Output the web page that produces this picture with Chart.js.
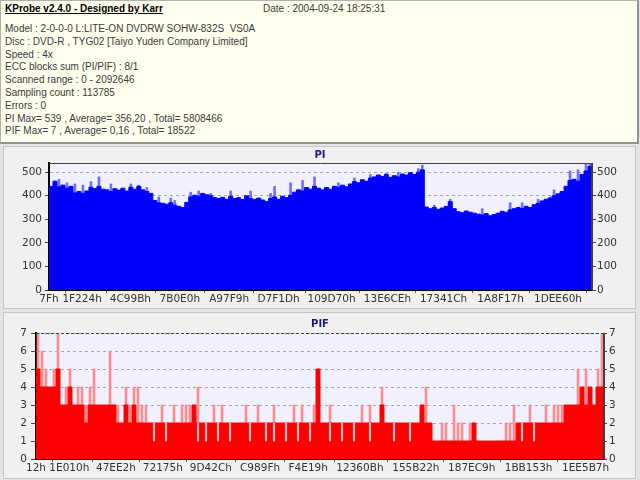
<!DOCTYPE html>
<html><head><meta charset="utf-8">
<script src="https://cdn.jsdelivr.net/npm/chart.js@4.4.1/dist/chart.umd.min.js"></script>
<style>
html,body{margin:0;padding:0;width:640px;height:480px;overflow:hidden;background:#e4e4e4;}
#hdr{position:absolute;left:0;top:0;width:636px;height:141px;background:#ffffee;border:1px solid #b0b0b0;border-right:2px solid #909090;border-bottom:2px solid #909090;font-family:"Liberation Sans",Arial,sans-serif;font-size:10px;color:#3a3a3a;}
#hdr div{position:absolute;line-height:12px;white-space:pre;}
.panel{position:absolute;left:3px;width:631px;background:#f0f0f0;border:1px solid #c4c4c4;}
canvas{position:absolute;left:0;}
</style></head>
<body>
<div id="hdr"></div>
<div class="panel" style="top:146px;height:161px;"></div>
<div class="panel" style="top:312px;height:165px;"></div>
<canvas id="pi" width="640" height="164" style="top:146px"></canvas>
<canvas id="pif" width="640" height="168" style="top:312px"></canvas>
<script>
// ---------- header text ----------
const headerTitle = "KProbe v2.4.0 - Designed by Karr";
const headerDate = "Date : 2004-09-24 18:25:31";
const infoLines = [
  "Model : 2-0-0-0 L:LITE-ON DVDRW SOHW-832S  VS0A",
  "Disc : DVD-R , TYG02 [Taiyo Yuden Company Limited]",
  "Speed : 4x",
  "ECC blocks sum (PI/PIF) : 8/1",
  "Scanned range : 0 - 2092646",
  "Sampling count : 113785",
  "Errors : 0",
  "PI Max= 539 , Average= 356,20 , Total= 5808466",
  "PIF Max= 7 , Average= 0,16 , Total= 18522"
];

// ---------- chart data ----------
const RANGE_MAX = 2092646;
const _ = null;

const piTickLabels = ["7Fh","1F224h","4C99Bh","7B0E0h","A97F9h","D7F1Dh","109D70h","13E6CEh","17341Ch","1A8F17h","1DEE60h"];
const pifTickLabels = ["12h","1E010h","47EE2h","72175h","9D42Ch","C989Fh","F4E19h","12360Bh","155B22h","187EC9h","1BB153h","1EE5B7h"];
const piYTicks = [0,50,100,150,200,250,300,350,400,450,500];
const pifYTicks = [0,1,2,3,4,5,6,7];

// typical PI level per bin
const piValues = [
  440,462,438,445,432,440,412,418,410,420,
  436,430,440,428,425,418,430,424,432,420,
  436,428,440,425,418,410,380,370,368,364,
  370,360,355,350,372,395,402,398,410,404,
  400,392,388,393,385,398,388,392,384,400,
  388,385,390,382,376,388,395,385,398,392,
  402,415,425,420,435,428,440,432,425,435,
  428,440,436,445,438,450,460,455,468,462,
  475,480,488,482,490,478,485,480,492,488,
  498,490,500,510,352,345,350,342,348,355,
  375,345,332,328,335,330,326,322,318,324,
  315,320,326,334,330,340,345,350,346,355,
  350,362,368,378,385,390,400,408,418,440,
  465,470,462,490,505,525
];
// short PI spikes per bin
const piPeaks = [
  _,_,470,_,455,_,450,_,445,_,
  460,_,480,_,_,450,_,_,_,_,
  450,_,445,_,435,_,_,395,_,_,
  390,380,_,_,_,415,_,420,_,_,
  410,_,_,_,_,420,_,_,_,_,
  420,_,_,_,_,410,440,_,_,_,
  455,_,_,465,_,_,480,_,_,_,
  _,_,455,_,_,_,475,_,_,_,
  490,_,_,_,495,_,_,500,_,_,
  _,_,515,530,_,_,360,_,_,_,
  385,_,_,_,_,_,_,_,345,_,
  _,_,_,_,_,370,_,_,370,_,
  _,_,385,_,_,395,425,_,_,_,
  505,_,510,_,539,535
];

// typical PIF level per bin
const pifValues = [
  5,4,4,4,4,5,3,3,4,3,
  3,3,2,3,3,3,3,3,3,3,
  2,2,3,2,3,2,2,2,2,2,
  2,2,2,2,2,2,2,2,2,3,
  2,2,2,2,2,2,2,2,2,2,
  2,2,2,2,2,2,2,2,2,2,
  2,2,2,2,2,2,2,2,2,2,
  5,2,2,2,2,2,2,2,2,2,
  2,2,2,2,2,2,3,2,2,2,
  2,2,2,2,2,2,3,2,2,1,
  1,1,1,1,1,1,1,1,1,2,
  1,1,1,1,1,1,1,1,1,1,
  2,2,2,2,2,2,2,2,2,2,
  2,2,3,3,3,3,4,3,4,3,
  4,4
];
// short PIF spikes per bin
const pifPeaks = [
  7,6,5,_,5,7,_,4,5,_,
  4,4,3,4,5,_,_,_,6,_,
  3,_,4,3,4,4,3,3,_,_,
  _,3,_,_,3,_,3,3,3,_,
  4,_,_,_,3,_,3,_,_,_,
  _,_,3,_,_,3,_,_,_,3,
  _,_,_,_,3,_,3,_,_,3,
  _,_,_,3,_,_,_,_,_,_,
  _,3,_,3,_,_,4,_,_,_,
  _,_,_,_,_,_,_,4,_,_,
  _,2,2,_,3,2,2,_,2,_,
  _,_,_,_,_,_,_,2,2,3,
  _,_,_,3,_,_,_,3,_,3,
  3,3,_,_,_,5,_,5,_,_,
  5,7
];
// short PIF dips per bin
const pifLows = [
  _,_,_,_,_,_,_,_,_,_,
  _,_,_,_,_,_,_,_,_,_,
  _,_,_,_,_,_,_,_,_,1,
  _,_,1,_,_,_,_,_,_,_,
  1,_,1,_,_,1,_,_,1,_,
  _,_,_,1,_,_,_,1,_,1,
  _,_,1,_,_,1,_,_,1,_,
  _,_,_,1,_,_,1,_,_,1,
  _,_,_,1,_,_,_,_,_,1,
  _,_,_,1,_,_,_,_,_,_,
  _,_,_,_,_,_,_,_,_,_,
  _,_,_,_,_,_,_,_,_,_,
  _,1,_,_,1,_,_,_,_,_,
  _,_,_,_,_,_,_,_,_,_,
  _,_
];

// ---------- header build ----------
const hdr = document.getElementById('hdr');
function addLine(text, left, top, style) {
  const d = document.createElement('div');
  d.textContent = text; d.style.left = left + 'px'; d.style.top = top + 'px';
  if (style) Object.assign(d.style, style);
  hdr.appendChild(d);
}
addLine(headerTitle, 4, 2, {fontWeight:'bold', textDecoration:'underline', color:'#000'});
addLine(headerDate, 262, 2, {});
infoLines.forEach((t, i) => addLine(t, 4, 22 + i * 12.8, {}));

// ---------- chart helpers ----------
function stepData(vals) {
  const step = RANGE_MAX / vals.length;
  const pts = vals.map((v, i) => ({x: i * step, y: v}));
  pts.push({x: RANGE_MAX, y: vals[vals.length - 1]});
  return pts;
}
function peakData(peaks) {
  const step = RANGE_MAX / peaks.length;
  return peaks.map((v, i) => v == null ? null : ({x: (i + 0.5) * step, y: v})).filter(p => p);
}
function lowData(lows, vals) {
  const step = RANGE_MAX / lows.length;
  return lows.map((v, i) => v == null ? null : ({x: (i + 0.5) * step, y: [v, vals[i]]})).filter(p => p);
}

const framePlugin = {
  id: 'frame',
  beforeDraw(chart) {
    const {ctx, chartArea: a} = chart;
    ctx.save();
    ctx.fillStyle = '#f0f0ff';
    ctx.fillRect(a.left, a.top, a.right - a.left, a.bottom - a.top);
    ctx.restore();
  },
  afterDatasetsDraw(chart, args, opts) {
    const {ctx, chartArea: a} = chart;
    ctx.save();
    ctx.strokeStyle = '#404040';
    ctx.lineWidth = 1;
    if (opts.topDash) ctx.setLineDash([3, 2]);
    ctx.beginPath();
    ctx.moveTo(a.left, a.top + 0.5); ctx.lineTo(a.right, a.top + 0.5);
    ctx.stroke();
    ctx.setLineDash([]);
    ctx.beginPath();
    ctx.moveTo(a.right - 0.5, a.top); ctx.lineTo(a.right - 0.5, a.bottom);
    ctx.stroke();
    ctx.restore();
  }
};

const tickFont = {family: 'DejaVu Sans', size: 10.5};

function makeChart(id, cfg) {
  const xTicks = cfg.xLabels.map(s => parseInt(s.slice(0, -1), 16));
  const datasets = [
    {
      type: 'line', data: stepData(cfg.values), stepped: true, fill: 'origin',
      backgroundColor: cfg.color, borderColor: cfg.color, borderWidth: 1,
      pointRadius: 0, order: 1, yAxisID: 'y'
    },
    {
      type: 'bar', data: peakData(cfg.peaks), backgroundColor: cfg.peakColor,
      borderWidth: 0, barThickness: 2, grouped: false, order: 2, yAxisID: 'y'
    }
  ];
  if (cfg.lows) {
    datasets.push({
      type: 'bar', data: lowData(cfg.lows, cfg.values), backgroundColor: cfg.lowColor,
      borderWidth: 0, barThickness: 1.5, grouped: false, order: 0, yAxisID: 'y'
    });
  }
  return new Chart(document.getElementById(id), {
    type: 'line',
    data: {datasets},
    options: {
      responsive: false, animation: false, devicePixelRatio: 1,
      layout: {padding: 0},
      plugins: {
        legend: {display: false}, tooltip: {enabled: false},
        title: {display: true, text: cfg.title, color: '#1a1a80',
          font: {family: 'DejaVu Sans', size: 10, weight: 'bold'},
          padding: {top: cfg.titleTop, bottom: cfg.titleBottom}},
        frame: {topDash: cfg.topDash}
      },
      scales: {
        x: {
          type: 'linear', min: 0, max: RANGE_MAX, offset: false,
          afterBuildTicks: s => { s.ticks = xTicks.map(v => ({value: v})); },
          afterFit: s => { s.height = cfg.xHeight; },
          ticks: {autoSkip: false, maxRotation: 0, minRotation: 0, padding: 0, color: '#333', font: tickFont,
            callback: v => v.toString(16).toUpperCase() + 'h'},
          grid: {drawOnChartArea: false, tickLength: 3, color: '#555'},
          border: {color: '#000', width: 1}
        },
        y: {
          type: 'linear', position: 'left', min: 0, max: cfg.yMax,
          afterBuildTicks: s => { s.ticks = cfg.yTicks.map(v => ({value: v})); },
          afterFit: s => { s.width = cfg.leftW; },
          ticks: {padding: cfg.leftPad, color: '#333', font: tickFont},
          grid: {color: '#a8a8a8', tickColor: '#444', tickLength: cfg.leftTick},
          border: {color: '#000', width: 2, dash: [3, 3]}
        },
        y2: {
          type: 'linear', position: 'right', min: 0, max: cfg.yMax,
          afterBuildTicks: s => { s.ticks = cfg.yTicks.map(v => ({value: v})); },
          afterFit: s => { s.width = cfg.rightW; },
          ticks: {padding: cfg.rightPad, color: '#333', font: tickFont},
          grid: {drawOnChartArea: false, tickColor: '#444', tickLength: cfg.rightTick},
          border: {color: '#404040', width: 1}
        }
      }
    },
    plugins: [framePlugin]
  });
}

makeChart('pi', {
  title: 'PI', titleTop: 3, titleBottom: 2, values: piValues, peaks: piPeaks,
  color: '#0000ff', peakColor: '#7070ff', xLabels: piTickLabels, yTicks: piYTicks, yMax: 539,
  leftW: 49, rightW: 48, xHeight: 20, leftPad: 3, leftTick: 4, rightPad: 1, rightTick: 4, topDash: false
});
makeChart('pif', {
  title: 'PIF', titleTop: 6, titleBottom: 3, values: pifValues, peaks: pifPeaks, lows: pifLows,
  color: '#ff0000', peakColor: '#ff8c8c', lowColor: '#ffc0c0', xLabels: pifTickLabels, yTicks: pifYTicks, yMax: 7,
  leftW: 36, rightW: 36, xHeight: 21, leftPad: 4, leftTick: 5, rightPad: 2, rightTick: 3, topDash: true
});
</script>
</body></html>
